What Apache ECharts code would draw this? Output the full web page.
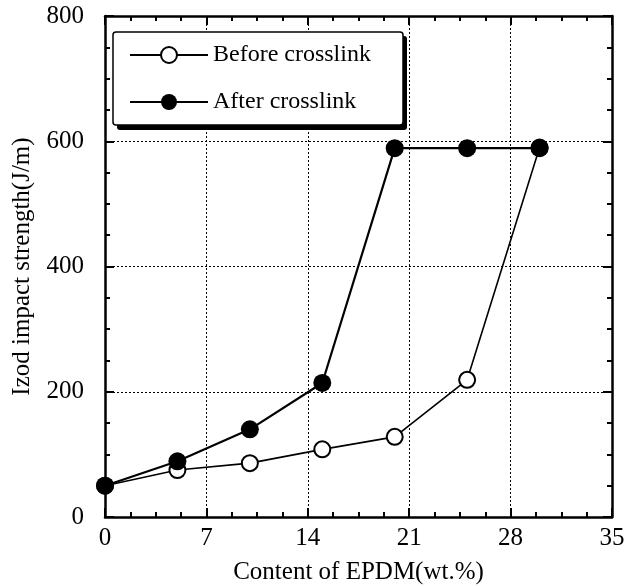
<!DOCTYPE html>
<html>
<head>
<meta charset="utf-8">
<script src="https://cdn.jsdelivr.net/npm/echarts@6/dist/echarts.min.js"></script>
<style>
html,body{margin:0;padding:0;background:#fff;}
#c{width:626px;height:586px;}
</style>
</head>
<body>
<div id="c"></div>
<script>
var epdmContent = [0, 5, 10, 15, 20, 25, 30];
var beforeCrosslink = [50, 75, 86, 108, 128, 219, 590];
var afterCrosslink = [50, 89, 140, 214, 589, 589, 589];
var seriesNames = ['Before crosslink', 'After crosslink'];
var xTitle = 'Content of EPDM(wt.%)';
var yTitle = 'Izod impact strength(J/m)';

function pairs(xs, ys) { return xs.map(function (x, i) { return [x, ys[i]]; }); }

var FONT = '"Liberation Serif", "DejaVu Serif", serif';
var chart = echarts.init(document.getElementById('c'), null, {renderer: 'canvas'});

var axisCommon = {
  type: 'value',
  axisLine: {show: true, onZero: false, lineStyle: {color: '#000', width: 2.5}},
  axisTick: {show: true, inside: true, length: 9, lineStyle: {color: '#000', width: 2}},
  minorTick: {show: true, splitNumber: 4, length: 5, lineStyle: {color: '#000', width: 2}},
  splitLine: {show: false},
  axisLabel: {show: false}
};

var option = {
  animation: false,
  backgroundColor: '#fff',
  grid: {left: 105, right: 14, top: 16, bottom: 69, containLabel: false, outerBoundsMode: 'none'},
  xAxis: [
    Object.assign({}, axisCommon, {
      min: 0, max: 35, interval: 7, position: 'bottom',
      axisLabel: {show: true, color: '#000', fontFamily: FONT, fontSize: 25, margin: 9},
      splitLine: {show: true, lineStyle: {color: '#000', width: 1, type: [2, 2]}},
      name: xTitle, nameLocation: 'middle', nameGap: 43,
      nameTextStyle: {color: '#000', fontFamily: FONT, fontSize: 25}
    }),
    Object.assign({}, axisCommon, {min: 0, max: 35, interval: 7, position: 'top'})
  ],
  yAxis: [
    Object.assign({}, axisCommon, {
      min: 0, max: 800, interval: 200, position: 'left',
      axisLabel: {show: true, color: '#000', fontFamily: FONT, fontSize: 25, margin: 21},
      splitLine: {show: true, lineStyle: {color: '#000', width: 1, type: [2, 2]}},
      name: yTitle, nameLocation: 'middle', nameGap: 70,
      nameTextStyle: {color: '#000', fontFamily: FONT, fontSize: 25}
    }),
    Object.assign({}, axisCommon, {min: 0, max: 800, interval: 200, position: 'right'})
  ],
  legend: {
    data: seriesNames,
    orient: 'vertical',
    left: 129, top: 43,
    padding: 0,
    itemWidth: 78, itemHeight: 20, itemGap: 23,
    textStyle: {color: '#000', fontFamily: FONT, fontSize: 24, lineHeight: 20},
    z: 10
  },
  graphic: [
    {type: 'rect', z: 8, shape: {x: 117, y: 36, width: 290, height: 94, r: 3}, style: {fill: '#000'}},
    {type: 'rect', z: 9, shape: {x: 113, y: 32, width: 290, height: 93, r: 3}, style: {fill: '#fff', stroke: '#000', lineWidth: 1.5}}
  ],
  series: [
    {
      name: seriesNames[0], type: 'line', data: pairs(epdmContent, beforeCrosslink),
      symbol: 'emptyCircle', symbolSize: 16,
      lineStyle: {color: '#000', width: 1.6},
      itemStyle: {color: '#000', borderColor: '#000', borderWidth: 1.6},
      z: 3
    },
    {
      name: seriesNames[1], type: 'line', data: pairs(epdmContent, afterCrosslink),
      symbol: 'circle', symbolSize: 18,
      lineStyle: {color: '#000', width: 2.2},
      itemStyle: {color: '#000'},
      z: 4
    }
  ]
};
chart.setOption(option);
</script>
</body>
</html>
